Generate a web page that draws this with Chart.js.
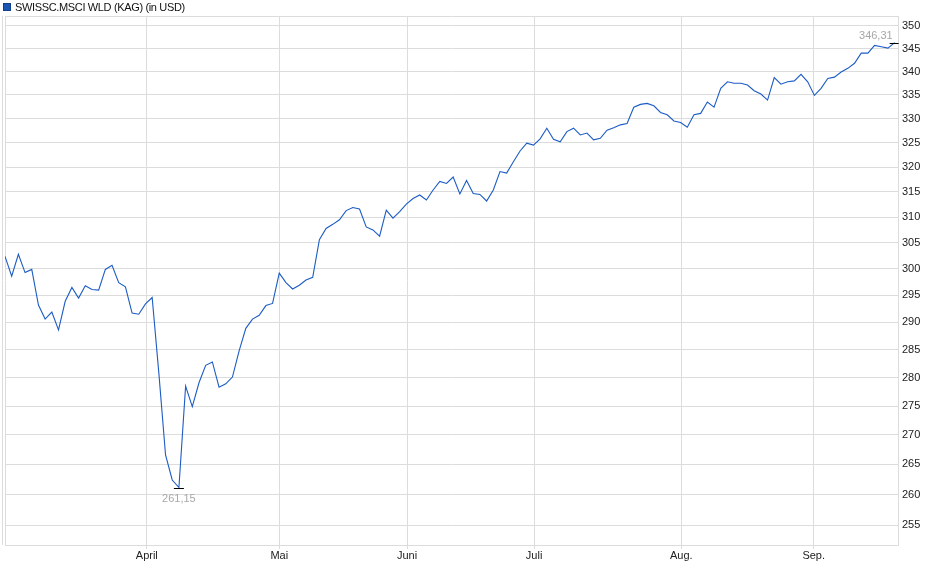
<!DOCTYPE html>
<html>
<head>
<meta charset="utf-8">
<script src="https://cdn.jsdelivr.net/npm/chart.js@4.4.1/dist/chart.umd.min.js"></script>
<style>
  html, body { margin: 0; padding: 0; background: #fff; }
  #wrap { width: 940px; height: 579px; }
</style>
</head>
<body>
<div id="wrap"><canvas id="fundChart" width="940" height="579"></canvas></div>
<script>
// series name shown in the legend
const seriesName = 'SWISSC.MSCI WLD (KAG) (in USD)';

// daily closes (trading days, early March .. mid September)
const closes = [
  302.4, 298.6, 302.8, 299.3, 299.9, 293.2, 290.6, 291.9, 288.6, 293.9,
  296.5, 294.5, 296.8, 296.1, 296.0, 299.9, 300.7, 297.4, 296.6, 291.7,
  291.5, 293.4, 294.6, 280.8, 266.6, 262.4, 261.15, 278.5, 274.9, 279.1,
  282.2, 282.8, 278.3, 278.9, 280.1, 284.8, 288.9, 290.6, 291.3, 293.1,
  293.5, 299.2, 297.4, 296.2, 296.9, 297.9, 298.4, 305.6, 307.8, 308.6,
  309.5, 311.3, 311.9, 311.6, 308.1, 307.5, 306.3, 311.4, 309.8, 311.1,
  312.6, 313.7, 314.4, 313.4, 315.4, 317.1, 316.7, 318.0, 314.6, 317.3,
  314.7, 314.5, 313.2, 315.4, 319.1, 318.8, 321.1, 323.3, 324.9, 324.5,
  325.8, 328.0, 325.7, 325.2, 327.3, 328.0, 326.6, 327.0, 325.6, 325.9,
  327.6, 328.1, 328.7, 329.0, 332.4, 333.0, 333.2, 332.7, 331.3, 330.8,
  329.5, 329.2, 328.2, 330.8, 331.1, 333.5, 332.4, 336.4, 337.8, 337.5,
  337.5, 337.1, 335.9, 335.2, 333.9, 338.7, 337.3, 337.8, 338.0, 339.4,
  337.8, 334.9, 336.4, 338.5, 338.8, 339.9, 340.7, 341.8, 344.0, 344.0,
  345.7, 345.4, 345.1, 346.31
];

// month starts on the trading-day axis
const monthLabels = ['April', 'Mai', 'Juni', 'Juli', 'Aug.', 'Sep.'];
const monthPos = [21.2, 41.0, 60.1, 79.1, 101.1, 120.9];

// y axis tick labels
const yTicks = [255, 260, 265, 270, 275, 280, 285, 290, 295, 300,
                305, 310, 315, 320, 325, 330, 335, 340, 345, 350];

const gridColor = '#dcdcdc';
const lineColor = '#1c5cc4';

Chart.defaults.font.family = 'Arial, "Liberation Sans", sans-serif';
Chart.defaults.font.size = 11;

// legend square + name, frame lines, min / max markers
const decorations = {
  id: 'decorations',
  beforeDatasetsDraw(chart) {
    const ctx = chart.ctx;
    const a = chart.chartArea;
    ctx.save();
    ctx.strokeStyle = gridColor;
    ctx.lineWidth = 1;
    ctx.beginPath();
    ctx.moveTo(a.left - 3 + 0.5, a.top);
    ctx.lineTo(a.left - 3 + 0.5, a.bottom);
    ctx.moveTo(a.left + 0.5, a.top);
    ctx.lineTo(a.left + 0.5, a.bottom);
    ctx.moveTo(a.left, a.top + 0.5);
    ctx.lineTo(a.right, a.top + 0.5);
    ctx.stroke();
    ctx.restore();
  },
  afterDatasetsDraw(chart) {
    const ctx = chart.ctx;
    const xs = chart.scales.x, ys = chart.scales.y;
    let lo = 0, hi = 0;
    closes.forEach((v, i) => {
      if (v < closes[lo]) lo = i;
      if (v > closes[hi]) hi = i;
    });
    const fmt = v => v.toFixed(2).replace('.', ',');
    ctx.save();
    ctx.font = '11px Arial, "Liberation Sans", sans-serif';
    ctx.strokeStyle = '#000';
    ctx.lineWidth = 1;

    // minimum
    let px = xs.getPixelForValue(lo), py = Math.round(ys.getPixelForValue(closes[lo])) + 0.5;
    ctx.beginPath();
    ctx.moveTo(px - 5, py);
    ctx.lineTo(px + 5, py);
    ctx.stroke();
    ctx.fillStyle = '#a8a8a8';
    ctx.textAlign = 'center';
    ctx.textBaseline = 'middle';
    ctx.fillText(fmt(closes[lo]), px, py + 10);

    // maximum
    px = xs.getPixelForValue(hi);
    py = Math.round(ys.getPixelForValue(closes[hi])) + 0.5;
    ctx.beginPath();
    ctx.moveTo(px - 5, py);
    ctx.lineTo(px + 4, py);
    ctx.stroke();
    ctx.textAlign = 'right';
    ctx.fillText(fmt(closes[hi]), px - 2, py - 8);
    ctx.restore();
  },
  afterDraw(chart) {
    const ctx = chart.ctx;
    ctx.save();
    ctx.fillStyle = '#1a56b4';
    ctx.fillRect(3, 3, 8, 8);
    ctx.strokeStyle = '#123f88';
    ctx.strokeRect(3.5, 3.5, 7, 7);
    ctx.fillStyle = '#111';
    ctx.font = '11px Arial, "Liberation Sans", sans-serif';
    ctx.letterSpacing = '-0.35px';
    ctx.textBaseline = 'middle';
    ctx.textAlign = 'left';
    ctx.fillText(seriesName, 15, 7.5);
    ctx.restore();
  }
};

const ctx = document.getElementById('fundChart').getContext('2d');
new Chart(ctx, {
  type: 'line',
  data: {
    datasets: [{
      label: seriesName,
      data: closes.map((v, i) => ({ x: i, y: v })),
      borderColor: lineColor,
      borderWidth: 1.1,
      pointRadius: 0,
      tension: 0,
      fill: false
    }]
  },
  options: {
    responsive: false,
    animation: false,
    layout: { padding: { left: 5, top: 16, right: 0, bottom: 0 } },
    plugins: {
      legend: { display: false },
      tooltip: { enabled: false }
    },
    scales: {
      x: {
        type: 'linear',
        min: 0,
        max: 133.5,
        grid: { color: gridColor, tickLength: 4, drawTicks: true },
        border: { color: gridColor },
        ticks: {
          color: '#222',
          padding: 0,
          maxRotation: 0,
          autoSkip: false,
          callback: value => monthLabels[monthPos.indexOf(value)] || ''
        },
        afterBuildTicks: axis => { axis.ticks = monthPos.map(v => ({ value: v })); },
        afterFit: axis => { axis.height = 34; }
      },
      y: {
        type: 'logarithmic',
        position: 'right',
        min: 251.8,
        max: 352.2,
        grid: { color: gridColor, drawTicks: false },
        border: { color: gridColor },
        ticks: {
          color: '#222',
          padding: 4,
          callback: value => String(value)
        },
        afterBuildTicks: axis => { axis.ticks = yTicks.map(v => ({ value: v })); },
        afterFit: axis => { axis.width = 42; }
      }
    }
  },
  plugins: [decorations]
});
</script>
</body>
</html>
